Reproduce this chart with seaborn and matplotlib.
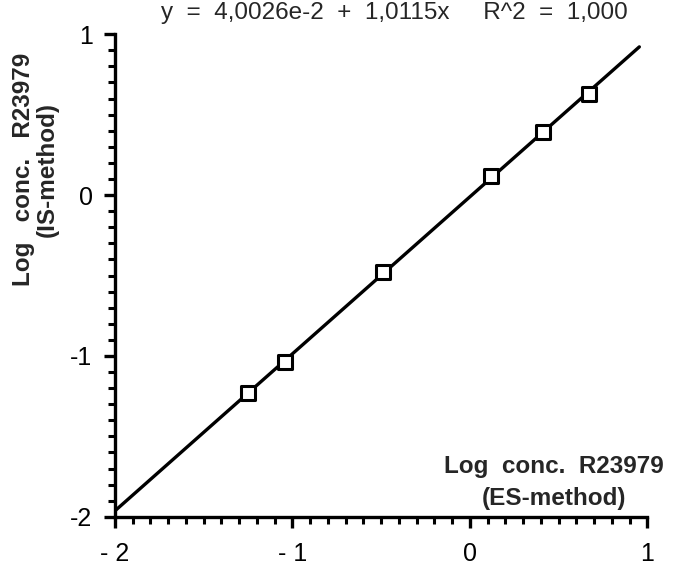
import numpy as np
import pandas as pd
import matplotlib
matplotlib.use("Agg")
import matplotlib.pyplot as plt
import seaborn as sns
from matplotlib.ticker import MultipleLocator, FixedLocator, FixedFormatter

# ---- data ----
es_method = [-1.25, -1.04, -0.49, 0.12, 0.41, 0.67]
is_method = [-1.23, -1.04, -0.48, 0.12, 0.39, 0.63]
x_ticks = [-2, -1, 0, 1]
x_tick_labels = ["- 2", "- 1", "0", "1"]
y_ticks = [-2, -1, 0, 1]
y_tick_labels = ["-2", "-1", "0", "1"]
fit_text = "y  =  4,0026e-2  +  1,0115x     R^2  =  1,000"
x_label = "Log  conc.  R23979\n(ES-method)"
y_label = "Log   conc.   R23979\n(IS-method)"

sns.set_style("ticks")
plt.rcParams['font.family'] = ['Liberation Sans', 'DejaVu Sans']

fig = plt.figure(figsize=(6.75, 5.8), dpi=100)
ax = fig.add_axes([0.170, 0.109, 0.789, 0.832])

df = pd.DataFrame({"es": es_method, "is": is_method})

# regression line extends to the current x-limits
ax.set_xlim(-2, 0.955)
sns.regplot(data=df, x="es", y="is", ax=ax, ci=None, truncate=False,
            scatter=False, line_kws=dict(color="black", lw=2.4))
sns.scatterplot(data=df, x="es", y="is", ax=ax, marker="s", s=95,
                facecolor="white", edgecolor="black", linewidth=2.2,
                zorder=3, legend=False)

ax.set_xlim(-2, 1)
ax.set_ylim(-2, 1)

for s in ["top", "right"]:
    ax.spines[s].set_visible(False)
for s in ["left", "bottom"]:
    ax.spines[s].set_linewidth(2.4)
    ax.spines[s].set_color("black")

ax.xaxis.set_major_locator(FixedLocator(x_ticks))
ax.xaxis.set_major_formatter(FixedFormatter(x_tick_labels))
ax.yaxis.set_major_locator(FixedLocator(y_ticks))
ax.yaxis.set_major_formatter(FixedFormatter(y_tick_labels))
ax.xaxis.set_minor_locator(MultipleLocator(0.1))
ax.yaxis.set_minor_locator(MultipleLocator(0.1))

ax.tick_params(axis="both", which="major", direction="out", length=8,
               width=2.4, color="black", labelsize=18, labelcolor="black")
ax.tick_params(axis="both", which="minor", direction="out", length=5,
               width=2.2, color="black")
ax.tick_params(axis="x", which="major", pad=10)
ax.tick_params(axis="y", which="major", pad=8)
for lab in ax.get_xticklabels() + ax.get_yticklabels():
    lab.set_fontweight("medium")

ax.set_xlabel(x_label, fontsize=17.5, fontweight="bold", linespacing=1.5,
              multialignment="center")
ax.xaxis.set_label_coords(0.825, 0.128)
ax.set_ylabel(y_label, fontsize=17.5, fontweight="bold", linespacing=1.05,
              multialignment="center")
ax.yaxis.set_label_coords(-0.105, 0.72)

fig.text(0.584, 0.977, fit_text, fontsize=17.5, ha="center", va="center")

fig.savefig("out.png", dpi=100, facecolor="white")
